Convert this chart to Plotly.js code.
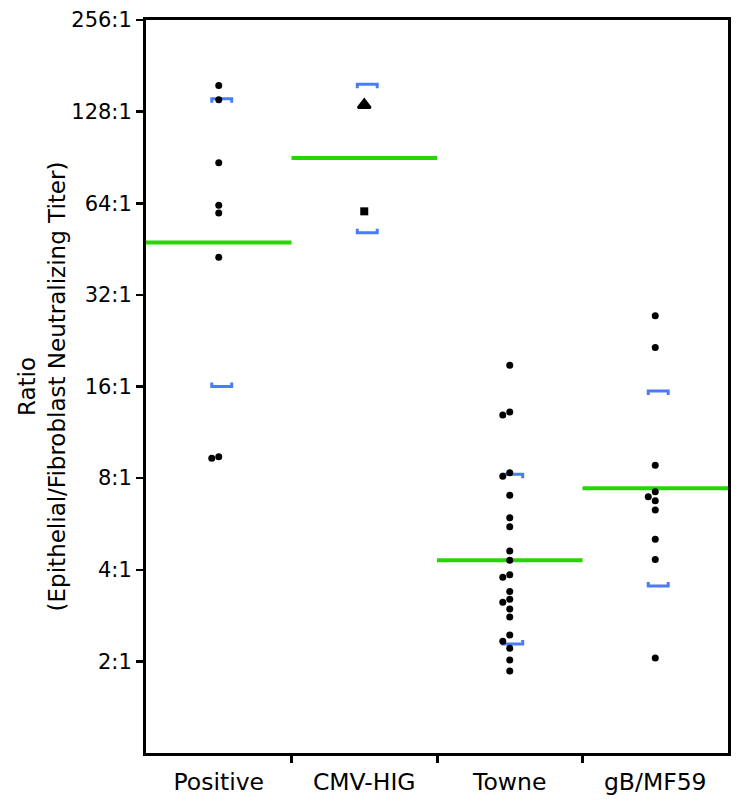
<!DOCTYPE html>
<html>
<head>
<meta charset="utf-8">
<script src="https://cdn.plot.ly/plotly-3.0.1.min.js"></script>
<style>html,body{margin:0;padding:0;background:#fff;}#chart{width:750px;height:812px;}</style>
</head>
<body>
<div id="chart"></div>
<script>
// ---- data ----
const categories = ['Positive', 'CMV-HIG', 'Towne', 'gB/MF59'];
const positive = [156, 140, 87, 63, 59.5, 42.5, 9.4, 9.3];
const cmvHigLotA = [134.6];
const cmvHigLotB = [60.2];
const towne = [18.8, 13.2, 12.9, 8.33, 8.11, 7.03, 5.93, 5.54, 4.61, 4.30, 3.85, 3.78,
               3.39, 3.20, 3.13, 2.97, 2.80, 2.44, 2.33, 2.21, 2.02, 1.86];
const gbMf59 = [27.3, 21.5, 8.82, 7.22, 6.95, 6.74, 6.29, 5.04, 4.32, 2.05];
const geoMeans = [47.6, 90.1, 4.30, 7.41];
const ciLow = [16.0, 51.2, 2.28, 3.54];
const ciHigh = [141, 157.4, 8.24, 15.47];
const yTickVals = [2, 4, 8, 16, 32, 64, 128, 256];
const yTickText = ['2:1', '4:1', '8:1', '16:1', '32:1', '64:1', '128:1', '256:1'];
const yTitleLines = ['Ratio', '(Epithelial/Fibroblast Neutralizing Titer)'];

// ---- simple beeswarm placement (computed, not typed) ----
const PX_PER_CAT = 146, PX_PER_LOG2 = 91.6, DIAM = 7;
function swarm(values, center) {
  const placed = [];
  const xs = [];
  values.forEach(v => {
    const yp = Math.log2(v) * PX_PER_LOG2;
    const tries = [0, -1, 1, -2, 2, -3, 3];
    let chosen = 0;
    for (const k of tries) {
      const xp = k * DIAM;
      const ok = placed.every(p => Math.hypot(p[0] - xp, p[1] - yp) >= DIAM - 0.5);
      if (ok) { chosen = xp; break; }
    }
    placed.push([chosen, yp]);
    xs.push(center + chosen / PX_PER_CAT);
  });
  return xs;
}

const GREEN = '#27d600', BLUE = '#4a7df5';
const traces = [];

// geometric mean lines
categories.forEach((c, i) => {
  traces.push({
    x: [i - 0.5, i + 0.5], y: [geoMeans[i], geoMeans[i]],
    mode: 'lines', line: {color: GREEN, width: 4}, hoverinfo: 'skip', showlegend: false
  });
});

// CI brackets
const bx = [], by = [];
const half = 10 / PX_PER_CAT, off = 3 / PX_PER_CAT, tickF = Math.pow(2, 4 / PX_PER_LOG2);
categories.forEach((c, i) => {
  const cx = i + off;
  bx.push(cx - half, cx - half, cx + half, cx + half, null);
  by.push(ciHigh[i] / tickF, ciHigh[i], ciHigh[i], ciHigh[i] / tickF, null);
  bx.push(cx - half, cx - half, cx + half, cx + half, null);
  by.push(ciLow[i] * tickF, ciLow[i], ciLow[i], ciLow[i] * tickF, null);
});
traces.push({x: bx, y: by, mode: 'lines', line: {color: BLUE, width: 3},
  connectgaps: false, hoverinfo: 'skip', showlegend: false});

// points
const dot = {color: '#000', size: 7};
traces.push({x: swarm(positive, 0), y: positive, mode: 'markers', marker: dot, showlegend: false});
traces.push({x: swarm(cmvHigLotA, 1), y: cmvHigLotA, mode: 'markers',
  marker: {color: '#000', size: 11, symbol: 'triangle-up', line: {color: '#000', width: 2.5}}, showlegend: false});
traces.push({x: swarm(cmvHigLotB, 1), y: cmvHigLotB, mode: 'markers',
  marker: {color: '#000', size: 8, symbol: 'square'}, showlegend: false});
traces.push({x: swarm(towne, 2), y: towne, mode: 'markers', marker: dot, showlegend: false});
traces.push({x: swarm(gbMf59, 3), y: gbMf59, mode: 'markers', marker: dot, showlegend: false});

const FONT = 'DejaVu Sans, Verdana, sans-serif';
const layout = {
  width: 750, height: 812,
  margin: {l: 146, r: 22, t: 20, b: 59},
  paper_bgcolor: '#fff', plot_bgcolor: '#fff',
  showlegend: false,
  font: {family: FONT, color: '#000'},
  xaxis: {
    range: [-0.5, 3.5], tickvals: [0, 1, 2, 3], ticktext: categories,
    ticks: '', tickfont: {size: 23.5, family: FONT}, ticklabelstandoff: 6,
    minor: {tickvals: [0.5, 1.5, 2.5], ticks: 'outside', ticklen: 7, tickwidth: 3, tickcolor: '#000', showgrid: false},
    showline: true, mirror: true, linewidth: 3, linecolor: '#000',
    showgrid: false, zeroline: false, fixedrange: true
  },
  yaxis: {
    type: 'log', range: [0, Math.log10(256) + 1e-6],
    tickvals: yTickVals, ticktext: yTickText,
    ticks: 'outside', ticklen: 7, tickwidth: 2.5, tickcolor: '#000',
    tickfont: {size: 21, family: FONT},
    showline: true, mirror: true, linewidth: 3, linecolor: '#000',
    showgrid: false, zeroline: false,
    title: {text: yTitleLines.join('<br>'), font: {size: 23, family: FONT}, standoff: 0}
  }
};

Plotly.newPlot('chart', traces, layout, {staticPlot: true, displayModeBar: false});
</script>
</body>
</html>
